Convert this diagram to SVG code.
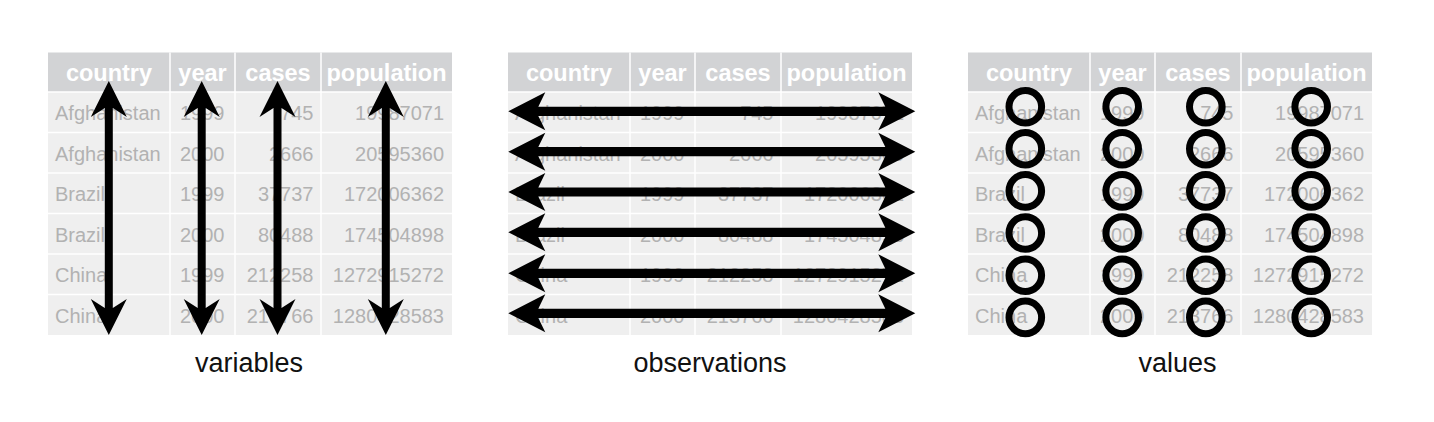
<svg xmlns="http://www.w3.org/2000/svg" xmlns:xlink="http://www.w3.org/1999/xlink" width="1434" height="422" viewBox="0 0 1434 422">
<style>
.bg{fill:#efefef}
.hd{fill:#d2d3d5}
.grid{stroke:#ffffff;stroke-width:1.5;fill:none}
.h{font-family:"Liberation Sans",Arial,sans-serif;font-weight:bold;font-size:23.5px;fill:#ffffff;text-anchor:middle}
.c{font-family:"Liberation Sans",Arial,sans-serif;font-size:20px;fill:#b2b2b2}
.n{font-family:"Liberation Sans",Arial,sans-serif;font-size:20px;fill:#b2b2b2;text-anchor:end}
.lbl{font-family:"Liberation Sans",Arial,sans-serif;font-size:27px;fill:#111111;text-anchor:middle}
.arr{fill:#000000}
.ring{fill:none;stroke:#000000;stroke-width:7}
</style>
<defs>
<path id="varrow" class="arr" d="M0,0 L18,36 L4,27 L4,227 L18,218 L0,254 L-18,218 L-4,227 L-4,27 L-18,36 Z"/>
<path id="harrow" class="arr" d="M0,0 L37,-19 L30,-4.6 L377,-4.6 L370,-19 L407,0 L370,19 L377,4.6 L30,4.6 L37,19 Z"/>
</defs>
<rect width="1434" height="422" fill="#ffffff"/>

<g id="table-variables">
<rect class="hd" x="48" y="52.5" width="404" height="39.5"/>
<rect class="bg" x="48" y="92" width="404" height="243"/>
<path class="grid" d="M48,92H452M48,132.5H452M48,173H452M48,213.5H452M48,254H452M48,294.5H452M170,52.5V335M235,52.5V335M321,52.5V335"/>
<text class="h" x="109" y="81">country</text><text class="h" x="202.5" y="81">year</text><text class="h" x="278" y="81">cases</text><text class="h" x="386.5" y="81">population</text>
<text class="c" x="55" y="120">Afghanistan</text><text class="n" x="224.5" y="120">1999</text><text class="n" x="313.5" y="120">745</text><text class="n" x="444" y="120">19987071</text>
<text class="c" x="55" y="160.5">Afghanistan</text><text class="n" x="224.5" y="160.5">2000</text><text class="n" x="313.5" y="160.5">2666</text><text class="n" x="444" y="160.5">20595360</text>
<text class="c" x="55" y="201">Brazil</text><text class="n" x="224.5" y="201">1999</text><text class="n" x="313.5" y="201">37737</text><text class="n" x="444" y="201">172006362</text>
<text class="c" x="55" y="241.5">Brazil</text><text class="n" x="224.5" y="241.5">2000</text><text class="n" x="313.5" y="241.5">80488</text><text class="n" x="444" y="241.5">174504898</text>
<text class="c" x="55" y="282">China</text><text class="n" x="224.5" y="282">1999</text><text class="n" x="313.5" y="282">212258</text><text class="n" x="444" y="282">1272915272</text>
<text class="c" x="55" y="322.5">China</text><text class="n" x="224.5" y="322.5">2000</text><text class="n" x="313.5" y="322.5">213766</text><text class="n" x="444" y="322.5">1280428583</text>
</g>

<g id="table-observations" transform="translate(460,0)">
<rect class="hd" x="48" y="52.5" width="404" height="39.5"/>
<rect class="bg" x="48" y="92" width="404" height="243"/>
<path class="grid" d="M48,92H452M48,132.5H452M48,173H452M48,213.5H452M48,254H452M48,294.5H452M170,52.5V335M235,52.5V335M321,52.5V335"/>
<text class="h" x="109" y="81">country</text><text class="h" x="202.5" y="81">year</text><text class="h" x="278" y="81">cases</text><text class="h" x="386.5" y="81">population</text>
<text class="c" x="55" y="120">Afghanistan</text><text class="n" x="224.5" y="120">1999</text><text class="n" x="313.5" y="120">745</text><text class="n" x="444" y="120">19987071</text>
<text class="c" x="55" y="160.5">Afghanistan</text><text class="n" x="224.5" y="160.5">2000</text><text class="n" x="313.5" y="160.5">2666</text><text class="n" x="444" y="160.5">20595360</text>
<text class="c" x="55" y="201">Brazil</text><text class="n" x="224.5" y="201">1999</text><text class="n" x="313.5" y="201">37737</text><text class="n" x="444" y="201">172006362</text>
<text class="c" x="55" y="241.5">Brazil</text><text class="n" x="224.5" y="241.5">2000</text><text class="n" x="313.5" y="241.5">80488</text><text class="n" x="444" y="241.5">174504898</text>
<text class="c" x="55" y="282">China</text><text class="n" x="224.5" y="282">1999</text><text class="n" x="313.5" y="282">212258</text><text class="n" x="444" y="282">1272915272</text>
<text class="c" x="55" y="322.5">China</text><text class="n" x="224.5" y="322.5">2000</text><text class="n" x="313.5" y="322.5">213766</text><text class="n" x="444" y="322.5">1280428583</text>
</g>

<g id="table-values" transform="translate(920,0)">
<rect class="hd" x="48" y="52.5" width="404" height="39.5"/>
<rect class="bg" x="48" y="92" width="404" height="243"/>
<path class="grid" d="M48,92H452M48,132.5H452M48,173H452M48,213.5H452M48,254H452M48,294.5H452M170,52.5V335M235,52.5V335M321,52.5V335"/>
<text class="h" x="109" y="81">country</text><text class="h" x="202.5" y="81">year</text><text class="h" x="278" y="81">cases</text><text class="h" x="386.5" y="81">population</text>
<text class="c" x="55" y="120">Afghanistan</text><text class="n" x="224.5" y="120">1999</text><text class="n" x="313.5" y="120">745</text><text class="n" x="444" y="120">19987071</text>
<text class="c" x="55" y="160.5">Afghanistan</text><text class="n" x="224.5" y="160.5">2000</text><text class="n" x="313.5" y="160.5">2666</text><text class="n" x="444" y="160.5">20595360</text>
<text class="c" x="55" y="201">Brazil</text><text class="n" x="224.5" y="201">1999</text><text class="n" x="313.5" y="201">37737</text><text class="n" x="444" y="201">172006362</text>
<text class="c" x="55" y="241.5">Brazil</text><text class="n" x="224.5" y="241.5">2000</text><text class="n" x="313.5" y="241.5">80488</text><text class="n" x="444" y="241.5">174504898</text>
<text class="c" x="55" y="282">China</text><text class="n" x="224.5" y="282">1999</text><text class="n" x="313.5" y="282">212258</text><text class="n" x="444" y="282">1272915272</text>
<text class="c" x="55" y="322.5">China</text><text class="n" x="224.5" y="322.5">2000</text><text class="n" x="313.5" y="322.5">213766</text><text class="n" x="444" y="322.5">1280428583</text>
</g>

<g id="connectors">
<use href="#varrow" transform="translate(108.8,81)"/>
<use href="#varrow" transform="translate(201.7,81)"/>
<use href="#varrow" transform="translate(277.5,81)"/>
<use href="#varrow" transform="translate(385.8,81)"/>
<use href="#harrow" transform="translate(508.3,111.3)"/>
<use href="#harrow" transform="translate(508.3,151.7)"/>
<use href="#harrow" transform="translate(508.3,192)"/>
<use href="#harrow" transform="translate(508.3,232.3)"/>
<use href="#harrow" transform="translate(508.3,273.3)"/>
<use href="#harrow" transform="translate(508.3,313.3)"/>
</g>

<g id="value-rings">
<g class="ring">
<circle cx="1025.3" cy="106.7" r="16.3"/><circle cx="1122.2" cy="106.7" r="16.3"/><circle cx="1205.8" cy="106.7" r="16.3"/><circle cx="1311.2" cy="106.7" r="16.3"/>
<circle cx="1025.3" cy="148.8" r="16.3"/><circle cx="1122.2" cy="148.8" r="16.3"/><circle cx="1205.8" cy="148.8" r="16.3"/><circle cx="1311.2" cy="148.8" r="16.3"/>
<circle cx="1025.3" cy="190.9" r="16.3"/><circle cx="1122.2" cy="190.9" r="16.3"/><circle cx="1205.8" cy="190.9" r="16.3"/><circle cx="1311.2" cy="190.9" r="16.3"/>
<circle cx="1025.3" cy="233" r="16.3"/><circle cx="1122.2" cy="233" r="16.3"/><circle cx="1205.8" cy="233" r="16.3"/><circle cx="1311.2" cy="233" r="16.3"/>
<circle cx="1025.3" cy="275.2" r="16.3"/><circle cx="1122.2" cy="275.2" r="16.3"/><circle cx="1205.8" cy="275.2" r="16.3"/><circle cx="1311.2" cy="275.2" r="16.3"/>
<circle cx="1025.3" cy="317.4" r="16.3"/><circle cx="1122.2" cy="317.4" r="16.3"/><circle cx="1205.8" cy="317.4" r="16.3"/><circle cx="1311.2" cy="317.4" r="16.3"/>
</g>
</g>

<g id="labels">
<text class="lbl" x="249" y="371.5">variables</text>
<text class="lbl" x="710" y="371.5">observations</text>
<text class="lbl" x="1177.5" y="371.5">values</text>
</g>
</svg>
